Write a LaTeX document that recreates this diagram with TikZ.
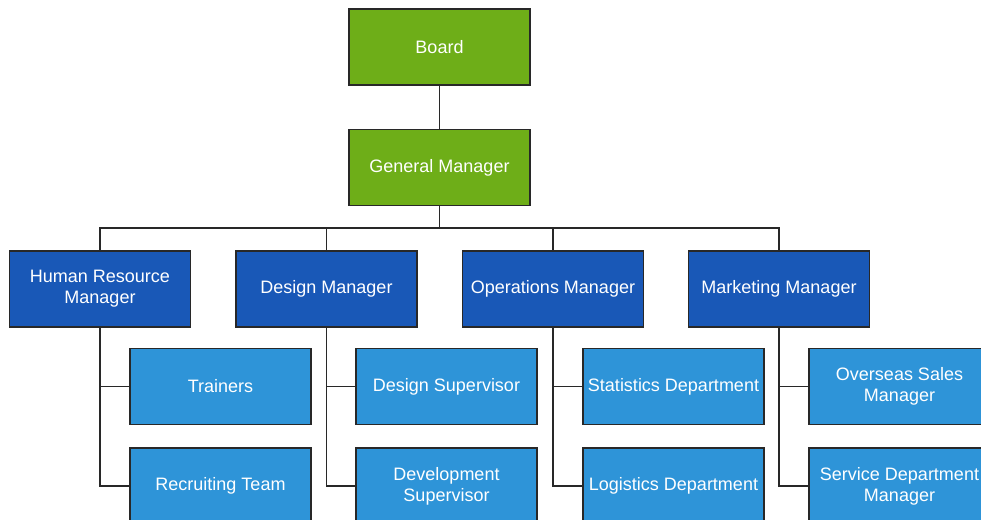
\documentclass[tikz,border=0pt]{standalone}
\usepackage{fontspec}
\setmainfont{Liberation Sans}
\definecolor{boardgreen}{RGB}{110,174,24}
\definecolor{mgrblue}{RGB}{25,88,183}
\definecolor{staffblue}{RGB}{46,148,216}
\definecolor{linegray}{RGB}{40,40,40}
\begin{document}
\begin{tikzpicture}[x=1pt,y=-1pt,
  unit/.style={shape=rectangle,draw=linegray,line width=1.5pt,minimum width=181pt,minimum height=76pt,
    inner sep=0pt,align=center,text=white,font=\fontsize{18}{21}\selectfont},
  top/.style={unit,fill=boardgreen},
  mgr/.style={unit,fill=mgrblue},
  staff/.style={unit,fill=staffblue},
  link/.style={draw=linegray,line width=1.5pt}]
\clip (0,0) rectangle (981,519);

\node[top] (b) at (439.5,47) {Board};
\node[top] (gm) at (439.5,167.5) {General Manager};

\node[mgr] (m1) at (100,289) {Human Resource\\Manager};
\node[mgr] (m2) at (326.5,289) {Design Manager};
\node[mgr] (m3) at (553,289) {Operations Manager};
\node[mgr] (m4) at (779,289) {Marketing Manager};

\node[staff] (s1) at (220.5,386.5) {Trainers};
\node[staff] (s2) at (220.5,486) {Recruiting Team};
\node[staff] (s3) at (446.5,386.5) {Design Supervisor};
\node[staff] (s4) at (446.5,486) {Development\\Supervisor};
\node[staff] (s5) at (673.5,386.5) {Statistics Department};
\node[staff] (s6) at (673.5,486) {Logistics Department};
\node[staff] (s7) at (899.5,386.5) {Overseas Sales\\Manager};
\node[staff] (s8) at (899.5,486) {Service Department\\Manager};

\coordinate (bus) at (439.5,228);

\path [link] (b) edge (gm);
\path [link] (gm.south) edge (bus);
\draw [link] (m1.north) |- (bus) -| (m4.north);
\draw [link] (m2.north) |- (bus);
\draw [link] (m3.north) |- (bus);

\draw [link] (m1.south) |- (s1.west);
\draw [link] (m1.south) |- (s2.west);
\draw [link] (m2.south) |- (s3.west);
\draw [link] (m2.south) |- (s4.west);
\draw [link] (m3.south) |- (s5.west);
\draw [link] (m3.south) |- (s6.west);
\draw [link] (m4.south) |- (s7.west);
\draw [link] (m4.south) |- (s8.west);
\end{tikzpicture}
\end{document}
